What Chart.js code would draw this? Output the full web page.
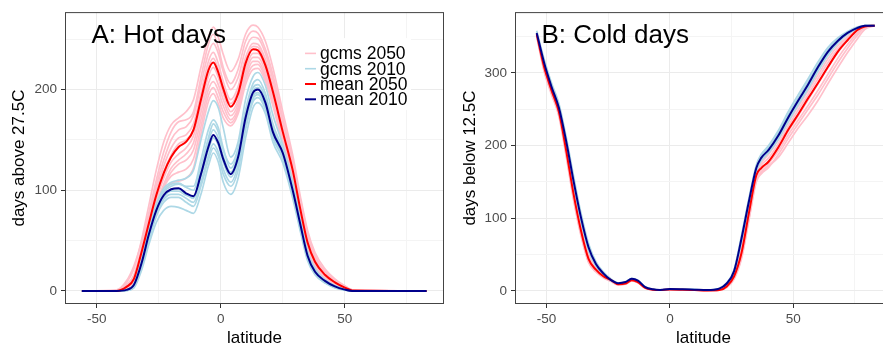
<!DOCTYPE html>
<html lang="en">
<head>
<meta charset="UTF-8">
<title>Hot and cold days by latitude</title>
<script src="https://cdn.jsdelivr.net/npm/chart.js"></script>
<style>
    html, body { margin: 0; padding: 0; background: #fff; overflow: hidden; }
    body { width: 883px; height: 350px; position: relative; }
    canvas { position: absolute; top: 0; }
    #hotChart { left: 0; }
    #coldChart { left: 444px; }
</style>
</head>
<body>
<canvas id="hotChart" width="444" height="350"></canvas>
<canvas id="coldChart" width="448" height="350"></canvas>

<script>
    // ---- axes ----
    const latTicks = [-50, -25, 0, 25, 50, 75];
    const latLabels = [-50, 0, 50];
    const hotTicks = [0, 50, 100, 150, 200, 250];
    const hotLabels = [0, 100, 200];
    const coldTicks = [0, 50, 100, 150, 200, 250, 300, 350];
    const coldLabels = [0, 100, 200, 300];

    // ---- A: hot days (days above 27.5C) ----
    const latHot = [-56, -42, -38, -35, -32, -29, -26, -23, -20, -17, -14, -11, -8, -5, -3, -1, 1, 4, 7, 10, 13, 15, 18, 21, 25, 29, 32, 35, 38, 42, 46, 50, 53, 83];
    const hotMean2010 = [0, 0, 1, 6, 27, 56, 80, 95, 101, 102, 97, 94, 116, 143, 155, 147, 131, 116, 133, 172, 197, 200, 187, 158, 137, 100, 67, 35, 19, 10, 4.5, 1.3, 0, 0];
    const hotMean2050 = [0, 0, 4, 12, 38, 67, 95, 117, 133, 143, 148, 160, 190, 219, 227, 217, 201, 183, 196, 226, 240, 239, 224, 198, 158, 120, 82, 48, 29, 16, 8.5, 3.3, 0.5, 0];
    const hotGcms2050 = [
        [0, 0, 8, 22, 50, 85, 120, 148, 165, 172, 178, 190, 222, 252, 262, 252, 235, 218, 230, 255, 264, 262, 248, 222, 178, 135, 95, 60, 38, 22, 12, 5, 1, 0],
        [0, 0, 6, 16, 42, 74, 105, 130, 150, 160, 163, 174, 205, 236, 246, 236, 218, 200, 212, 240, 252, 251, 236, 210, 168, 128, 88, 54, 33, 19, 10, 4, 1, 0],
        [0, 0, 3, 10, 34, 62, 90, 112, 128, 136, 142, 154, 184, 213, 222, 212, 196, 178, 190, 220, 236, 236, 222, 196, 156, 118, 80, 46, 27, 15, 8, 3, 0, 0],
        [0, 0, 2, 8, 30, 56, 82, 104, 118, 126, 130, 140, 170, 200, 208, 199, 184, 170, 182, 212, 228, 228, 214, 190, 150, 112, 76, 43, 25, 14, 7, 2.5, 0, 0],
        [0, 0, 1, 7, 28, 56, 82, 98, 107, 109, 112, 122, 156, 188, 196, 186, 172, 164, 176, 205, 220, 221, 208, 184, 146, 108, 72, 40, 23, 12, 6, 2, 0, 0],
        [0, 1, 10, 25, 48, 78, 110, 138, 158, 168, 170, 178, 212, 245, 255, 242, 222, 206, 220, 248, 258, 256, 240, 215, 172, 130, 92, 58, 35, 20, 11, 5, 1, 0],
        [0, 0, 5, 14, 40, 70, 100, 124, 142, 152, 155, 166, 196, 228, 237, 226, 208, 190, 203, 232, 246, 245, 230, 204, 162, 124, 85, 51, 31, 17, 9, 3.5, 0.5, 0],
        [0, 0, 2, 9, 32, 60, 86, 106, 122, 130, 136, 147, 177, 206, 215, 205, 190, 174, 186, 216, 232, 232, 218, 193, 153, 115, 78, 45, 26, 14, 7, 3, 0, 0],
        [0, 0, 4, 13, 37, 66, 96, 118, 135, 146, 150, 160, 190, 222, 231, 220, 203, 186, 199, 229, 243, 242, 227, 201, 160, 122, 83, 49, 30, 16, 8.5, 3.3, 0.5, 0],
        [0, 0, 3, 9, 31, 58, 84, 103, 114, 118, 121, 131, 163, 194, 202, 192, 178, 167, 179, 209, 224, 225, 211, 187, 148, 110, 74, 42, 24, 13, 6.5, 2.2, 0, 0]
    ];
    const hotGcms2010 = [
        [0, 0, 1, 7, 30, 60, 86, 102, 108, 110, 112, 120, 150, 178, 189, 182, 162, 133, 148, 190, 213, 217, 204, 175, 145, 108, 72, 39, 22, 11, 5, 1.5, 0, 0],
        [0, 0, 1, 6, 28, 58, 84, 100, 106, 107, 103, 100, 124, 152, 166, 158, 140, 126, 142, 180, 206, 210, 196, 166, 141, 104, 70, 37, 21, 11, 5, 1.5, 0, 0],
        [0, 0, 1, 5, 26, 55, 79, 94, 100, 101, 96, 92, 114, 140, 152, 145, 128, 113, 130, 168, 194, 197, 184, 156, 135, 98, 65, 34, 18, 9, 4, 1, 0, 0],
        [0, 0, 0.5, 4, 22, 50, 74, 88, 93, 93, 88, 84, 104, 130, 142, 134, 116, 104, 120, 160, 188, 192, 180, 152, 131, 95, 62, 32, 17, 8, 3.5, 1, 0, 0],
        [0, 0, 0.5, 3, 20, 46, 68, 80, 84, 83, 80, 77, 96, 124, 137, 128, 108, 96, 112, 152, 182, 187, 176, 148, 127, 92, 60, 30, 16, 8, 3, 0.8, 0, 0],
        [0, 0, 1, 6, 27, 57, 82, 98, 104, 106, 104, 104, 130, 160, 170, 162, 142, 122, 138, 176, 202, 205, 192, 162, 139, 102, 69, 36, 20, 10, 4.5, 1.2, 0, 0],
        [0, 0, 0.5, 4, 24, 52, 76, 91, 96, 96, 92, 88, 108, 134, 146, 138, 121, 108, 125, 164, 191, 195, 182, 154, 133, 96, 63, 33, 17, 8.5, 3.8, 1, 0, 0],
        [0, 0, 1, 5, 25, 54, 78, 93, 99, 99, 95, 93, 118, 148, 160, 152, 134, 118, 135, 172, 199, 202, 189, 160, 137, 100, 66, 35, 19, 9.5, 4.2, 1.1, 0, 0]
    ];

    // ---- B: cold days (days below 12.5C) ----
    const latCold = [-54, -51, -48, -45, -42, -39, -36, -33, -30, -27, -24, -21, -18, -15.5, -13, -10, -7, -4, 0, 5, 10, 15, 20, 23, 26, 29, 32, 35, 37, 40, 44, 48, 52, 56, 60, 64, 68, 72, 76, 79, 83];
    const coldMean2010 = [355, 314, 281, 252, 205, 150, 100, 60, 37, 24, 15, 10.5, 12, 16.5, 14, 5, 2, 1, 2.3, 2, 1.5, 1, 3, 10, 27, 72, 123, 169, 183, 194, 214, 239, 262, 284, 308, 329, 344, 355, 362, 365, 365];
    const coldMean2050 = [353, 308, 276, 246, 192, 132, 82, 44, 29, 20, 15, 9, 10, 14.5, 12, 4, 1.5, 1, 1.8, 1.5, 1, 0.5, 1, 6, 20, 52, 107, 159, 169, 178, 198, 222, 243, 265, 286, 308, 329, 345, 359, 364, 365];
    const coldGcms2050 = [
        [355, 312, 280, 250, 198, 140, 92, 52, 34, 23, 15.5, 10, 11, 15.5, 13, 4.5, 1.8, 1, 2, 1.8, 1.2, 0.8, 1.8, 8, 24, 62, 115, 164, 176, 188, 208, 232, 254, 275, 297, 319, 337, 350, 360, 365, 365],
        [352, 306, 275, 245, 190, 130, 80, 43, 29, 20, 14.5, 9, 10, 14.5, 12, 4, 1.5, 1, 1.8, 1.5, 1, 0.5, 1, 6, 19, 50, 105, 157, 168, 177, 197, 220, 241, 263, 285, 307, 328, 345, 359, 364, 365],
        [350, 302, 270, 240, 184, 124, 75, 39, 26, 18, 13, 8, 9, 13.5, 11, 3.5, 1.2, 0.8, 1.5, 1.2, 0.8, 0.4, 0.8, 4.5, 16, 44, 97, 150, 161, 170, 188, 210, 230, 250, 270, 292, 314, 334, 352, 362, 365],
        [351, 305, 273, 243, 188, 128, 78, 41, 28, 19, 14, 8.5, 9.5, 14, 11.5, 3.8, 1.4, 0.9, 1.6, 1.3, 0.9, 0.5, 0.9, 5, 18, 48, 101, 154, 164, 172, 184, 204, 224, 242, 262, 285, 307, 328, 347, 360, 365],
        [354, 310, 278, 248, 195, 136, 86, 48, 31, 22, 15, 9.5, 10.5, 15, 12.5, 4.2, 1.6, 1, 1.9, 1.6, 1.1, 0.6, 1.4, 7, 22, 57, 111, 161, 173, 183, 203, 227, 249, 270, 292, 314, 333, 348, 360, 364, 365],
        [351, 304, 272, 242, 186, 126, 77, 40, 27, 19, 13.5, 8.3, 9.3, 13.8, 11.3, 3.6, 1.3, 0.9, 1.6, 1.2, 0.9, 0.5, 0.9, 4.8, 17, 46, 99, 152, 163, 175, 193, 215, 235, 255, 276, 298, 320, 339, 355, 363, 365]
    ];
    const coldGcms2010 = [
        [358, 319, 286, 258, 211, 157, 106, 65, 40, 26, 16.5, 11, 12.5, 17, 14.5, 5.5, 2, 1, 2.5, 2, 1.5, 1, 3.5, 11, 29, 76, 127, 173, 188, 200, 221, 247, 270, 292, 315, 335, 348, 357, 363, 365, 365],
        [352, 310, 277, 248, 200, 144, 95, 56, 34, 22, 14, 10, 11.5, 16, 13.5, 4.5, 1.8, 1, 2, 2, 1.5, 1, 2.5, 9, 25, 68, 119, 165, 179, 190, 209, 233, 256, 278, 302, 324, 341, 353, 361, 365, 365],
        [356, 316, 283, 255, 208, 153, 103, 62, 38, 25, 15.5, 10.5, 12, 16.5, 14, 5, 2, 1, 2.3, 2, 1.5, 1, 3, 10, 28, 74, 125, 171, 186, 197, 218, 243, 266, 288, 311, 332, 346, 356, 363, 365, 365],
        [354, 312, 279, 250, 202, 147, 97, 58, 35, 23, 14.5, 10, 11.5, 16, 13.5, 4.8, 1.9, 1, 2.2, 2, 1.5, 1, 2.8, 9.5, 26, 70, 121, 167, 181, 192, 211, 236, 259, 281, 305, 326, 342, 354, 361, 365, 365]
    ];

    const legendLabels = ['gcms 2050', 'gcms 2010', 'mean 2050', 'mean 2010'];
    const legendColors = ['#FFC0CB', '#ADD8E6', '#FF0000', '#00008B'];
    const legendWidths = [1.6, 1.6, 2, 2];

    const FONT = '"Liberation Sans", Arial, Helvetica, sans-serif';

    const pts = (lats, vals) => lats.map((x, i) => ({ x: x, y: vals[i] }));

    const buildDatasets = (lats, mean2010, mean2050, gcms2010, gcms2050) => {
        const line = (vals, color, width) => ({
            data: pts(lats, vals),
            borderColor: color,
            borderWidth: width,
            pointRadius: 0,
            fill: false,
            cubicInterpolationMode: 'monotone'
        });
        // first dataset ends up on top
        return [
            line(mean2010, '#00008B', 2),
            line(mean2050, '#FF0000', 2),
            ...gcms2010.map(v => line(v, '#ADD8E6', 1.7)),
            ...gcms2050.map(v => line(v, '#FFC0CB', 1.7))
        ];
    };

    // panel border, panel label and the little legend
    const decor = {
        id: 'decor',
        afterDatasetsDraw(chart, args, opts) {
            const { ctx, chartArea: a } = chart;
            ctx.save();
            if (opts.legend) {
                ctx.fillStyle = '#fff';
                ctx.fillRect(a.left + 228, a.top + 26, 118, 72);
                legendLabels.forEach((lab, i) => {
                    const y = a.top + 41.3 + i * 15.3;
                    ctx.strokeStyle = legendColors[i];
                    ctx.lineWidth = legendWidths[i];
                    ctx.beginPath();
                    ctx.moveTo(a.left + 240, y);
                    ctx.lineTo(a.left + 251, y);
                    ctx.stroke();
                    ctx.fillStyle = '#000';
                    ctx.font = '17.5px ' + FONT;
                    ctx.textBaseline = 'middle';
                    ctx.fillText(lab, a.left + 255, y + 1.2);
                });
            }
            ctx.strokeStyle = '#444';
            ctx.lineWidth = 1;
            ctx.strokeRect(a.left + 0.5, a.top + 0.5, a.right - a.left - 1, a.bottom - a.top - 1);
            ctx.fillStyle = '#000';
            ctx.font = '26px ' + FONT;
            ctx.textBaseline = 'alphabetic';
            ctx.fillText(opts.label, a.left + 26.5, a.top + 30.5);
            ctx.restore();
        }
    };

    const makeChart = (canvasId, cfg) => new Chart(document.getElementById(canvasId), {
        type: 'line',
        data: { datasets: cfg.datasets },
        options: {
            responsive: false,
            animation: false,
            layout: { padding: { top: 11, left: 0, right: 0, bottom: 0 } },
            plugins: {
                legend: { display: false },
                tooltip: { enabled: false },
                decor: { label: cfg.label, legend: cfg.legend }
            },
            scales: {
                x: {
                    type: 'linear',
                    min: -62.8,
                    max: 90,
                    afterBuildTicks: s => { s.ticks = latTicks.map(v => ({ value: v })); },
                    afterFit: s => { s.height = 46; },
                    border: { display: false },
                    grid: {
                        color: c => latLabels.includes(c.tick.value) ? '#EBEBEB' : '#F4F4F4',
                        tickColor: c => latLabels.includes(c.tick.value) ? '#333' : 'rgba(0,0,0,0)',
                        tickLength: 4
                    },
                    ticks: {
                        autoSkip: false,
                        maxRotation: 0,
                        padding: 3,
                        color: '#4D4D4D',
                        font: { family: FONT, size: 13.5 },
                        callback: v => latLabels.includes(v) ? String(v) : ''
                    },
                    title: {
                        display: true,
                        text: 'latitude',
                        color: '#000',
                        font: { family: FONT, size: 17 },
                        padding: { top: 0, bottom: 1.6 }
                    }
                },
                y: {
                    type: 'linear',
                    min: cfg.yMin,
                    max: cfg.yMax,
                    afterBuildTicks: s => { s.ticks = cfg.yTicks.map(v => ({ value: v })); },
                    afterFit: s => { s.width = cfg.yWidth; },
                    border: { display: false },
                    grid: {
                        color: c => cfg.yLabels.includes(c.tick.value) ? '#EBEBEB' : '#F4F4F4',
                        tickColor: c => cfg.yLabels.includes(c.tick.value) ? '#333' : 'rgba(0,0,0,0)',
                        tickLength: 4
                    },
                    ticks: {
                        autoSkip: false,
                        padding: 4,
                        color: '#4D4D4D',
                        font: { family: FONT, size: 13.5 },
                        callback: v => cfg.yLabels.includes(v) ? String(v) : ''
                    },
                    title: {
                        display: true,
                        text: cfg.yTitle,
                        color: '#000',
                        font: { family: FONT, size: 17 },
                        padding: { top: cfg.yTitlePad, bottom: 0 }
                    }
                }
            }
        },
        plugins: [decor]
    });

    makeChart('hotChart', {
        datasets: buildDatasets(latHot, hotMean2010, hotMean2050, hotGcms2010, hotGcms2050),
        label: 'A: Hot days',
        legend: true,
        yMin: -13, yMax: 277,
        yTicks: hotTicks, yLabels: hotLabels,
        yWidth: 65,
        yTitle: 'days above 27.5C',
        yTitlePad: 8.8
    });

    makeChart('coldChart', {
        datasets: buildDatasets(latCold, coldMean2010, coldMean2050, coldGcms2010, coldGcms2050),
        label: 'B: Cold days',
        legend: false,
        yMin: -18.2, yMax: 383.7,
        yTicks: coldTicks, yLabels: coldLabels,
        yWidth: 71,
        yTitle: 'days below 12.5C',
        yTitlePad: 15.8
    });
</script>
</body>
</html>
